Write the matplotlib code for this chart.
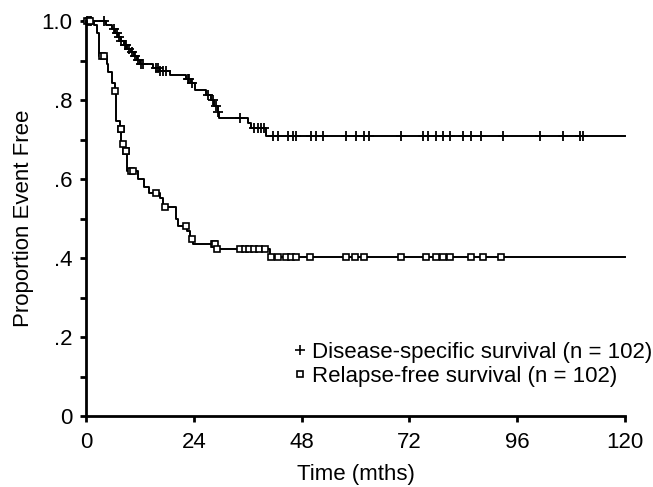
import numpy as np
import matplotlib
matplotlib.use("Agg")
from matplotlib import pyplot as plt
from matplotlib.lines import Line2D

# disease-specific survival: event times (months) and survival after each step
dss_t = [4.4, 5.9, 6.5, 7.1, 7.7, 8.4, 9.2, 10.0, 10.6, 11.3, 12.1, 15.0, 16.4,
         18.6, 22.3, 23.3, 24.2, 26.8, 27.9, 28.5, 29.3, 29.7, 36.0, 36.8, 40.1]
dss_s = [0.990, 0.980, 0.970, 0.960, 0.950, 0.941, 0.931, 0.921, 0.911, 0.902,
         0.892, 0.882, 0.873, 0.863, 0.853, 0.843, 0.826, 0.814, 0.800, 0.785,
         0.770, 0.754, 0.742, 0.729, 0.710]
dss_cens = [0.2, 0.5, 0.8, 1.2, 3.9, 6.2, 6.8, 7.4, 7.9, 8.7, 9.0, 9.6, 10.3,
            11.0, 11.6, 12.3, 12.7, 15.6, 16.0, 16.5, 17.1, 17.9, 22.7, 23.0,
            23.6, 27.2, 28.2, 29.0, 29.5, 34.2, 37.5, 38.2, 39.0, 39.7, 41.6,
            42.7, 44.9, 46.1, 46.8, 50.2, 51.2, 52.7, 58.0, 60.2, 62.0, 63.1,
            70.2, 75.0, 76.1, 78.0, 79.5, 81.0, 83.9, 85.8, 88.0, 92.8, 101.0,
            106.2, 109.9, 110.6]

# relapse-free survival
rfs_t = [1.7, 2.4, 2.8, 4.6, 5.0, 5.7, 6.4, 6.6, 7.6, 7.9, 8.7, 9.2, 11.5,
         13.0, 14.1, 16.4, 17.1, 20.1, 20.4, 22.6, 23.2, 23.8, 29.0, 41.0]
rfs_s = [0.990, 0.971, 0.912, 0.892, 0.872, 0.843, 0.824, 0.748, 0.727, 0.690,
         0.672, 0.620, 0.600, 0.580, 0.565, 0.552, 0.530, 0.500, 0.482, 0.470,
         0.450, 0.436, 0.423, 0.404]
rfs_cens = [0.3, 0.6, 0.9, 3.5, 3.9, 6.45, 7.7, 7.8, 8.2, 8.9, 9.0, 10.0, 10.4,
            15.6, 17.5, 22.3, 23.5, 28.6, 28.8, 29.2, 34.2, 35.3, 36.4, 37.5,
            38.6, 39.8, 41.2, 42.7, 44.6, 45.7, 46.8, 49.8, 58.0, 59.8, 62.0,
            70.2, 75.8, 78.0, 79.5, 81.0, 85.8, 88.4, 92.5]

x_ticks = [0, 24, 48, 72, 96, 120]
y_ticks = [0, 0.2, 0.4, 0.6, 0.8, 1.0]
y_tick_labels = ["0", ".2", ".4", ".6", ".8", "1.0"]

plt.rcParams["font.family"] = ["Liberation Sans", "DejaVu Sans"]
FS = 16


def curve(t, s):
    tt = np.concatenate([[0.0], t, [120.0]])
    ss = np.concatenate([[1.0], s, [s[-1]]])
    return tt, ss


def at(t, s, c):
    tt, ss = curve(t, s)
    idx = np.searchsorted(tt, c, side="right") - 1
    return ss[idx]


fig = plt.figure(figsize=(6.53, 4.87), dpi=100)
ax = fig.add_axes([0.1317, 0.1452, 0.8253, 0.8111])

tt, ss = curve(dss_t, dss_s)
ax.step(tt, ss, where="post", color="black", lw=1.4, clip_on=False)
ax.plot(dss_cens, at(dss_t, dss_s, np.array(dss_cens)), ls="none", marker="+",
        ms=7, mew=1.3, color="black", clip_on=False)

tt, ss = curve(rfs_t, rfs_s)
ax.step(tt, ss, where="post", color="black", lw=1.4, clip_on=False)
ax.plot(rfs_cens, at(rfs_t, rfs_s, np.array(rfs_cens)), ls="none", marker="s",
        ms=4.5, mew=1.2, mfc="white", color="black", clip_on=False)

ax.set_xlim(0, 120)
ax.set_ylim(0, 1.0)
ax.set_xticks(x_ticks)
ax.set_xticklabels([str(v) for v in x_ticks])
ax.set_yticks(y_ticks)
ax.set_yticklabels(y_tick_labels)
ax.set_yticks([0.1, 0.3, 0.5, 0.7, 0.9], minor=True)
ax.tick_params(axis="both", labelsize=FS, width=2, length=4, direction="out")
ax.tick_params(axis="y", which="minor", width=2, length=4)
ax.tick_params(axis="x", pad=7)
ax.tick_params(axis="y", pad=6)
for side in ["top", "right"]:
    ax.spines[side].set_visible(False)
for side in ["left", "bottom"]:
    ax.spines[side].set_linewidth(2)

ax.set_xlabel("Time (mths)", fontsize=FS, labelpad=8)
ax.set_ylabel("Proportion Event Free", fontsize=FS, labelpad=5)

handles = [
    Line2D([], [], ls="none", marker="+", ms=7, mew=1.2, color="black"),
    Line2D([], [], ls="none", marker="s", ms=4.5, mew=1.2, mfc="white", color="black"),
]
labels = ["Disease-specific survival (n = 102)", "Relapse-free survival (n = 102)"]
fig.legend(handles, labels, loc="upper left", bbox_to_anchor=(0.4457, 0.298),
           frameon=False, fontsize=FS, borderpad=0, handlelength=0.8,
           handletextpad=0.15, labelspacing=0.15, borderaxespad=0)

fig.savefig("out.png", dpi=100)
